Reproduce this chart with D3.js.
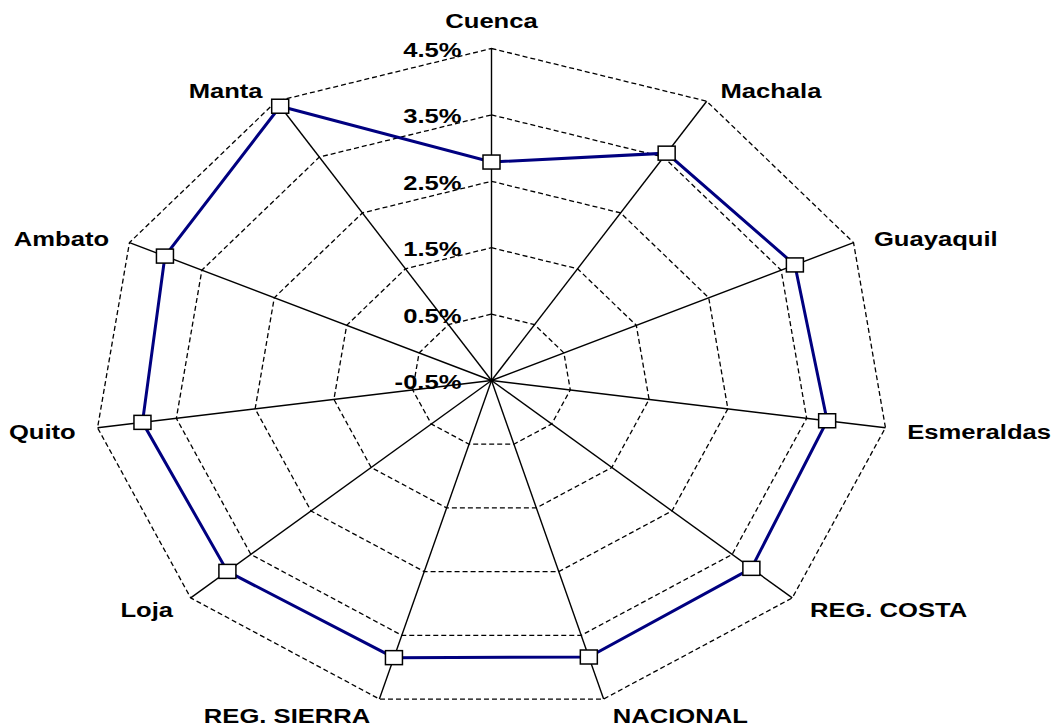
<!DOCTYPE html>
<html>
<head>
<meta charset="utf-8">
<title>Radar</title>
<script src="https://cdn.jsdelivr.net/npm/d3@7"></script>
<style>
	html, body { margin: 0; padding: 0; background: #fff; }
	svg { display: block; }
	text { font-family: "Liberation Sans", Arial, sans-serif; font-weight: bold; fill: #000; }
</style>
</head>
<body>
<svg id="chart" width="1055" height="726"></svg>
<script>
'use strict';

var categories = [
	'Cuenca', 'Machala', 'Guayaquil', 'Esmeraldas', 'REG. COSTA',
	'NACIONAL', 'REG. SIERRA', 'Loja', 'Quito', 'Ambato', 'Manta'
];
// percent values
var values = [2.79, 3.57, 3.69, 3.76, 3.82, 3.84, 3.85, 3.89, 3.93, 4.01, 4.41];
var ticks = [-0.5, 0.5, 1.5, 2.5, 3.5, 4.5];

var opt = {
	cx: 491.5,
	cy: 380.5,
	rx: 398,
	ry: 332,
	stretch: 1.22,
	fontSize: 21
};

var svg = d3.select('#chart');
var g = svg.append('g');

var r = d3.scaleLinear()
	.domain([ticks[0], ticks[ticks.length - 1]])
	.range([0, 1]);

var angle = d3.scaleLinear()
	.domain([0, categories.length])
	.range([0, 2 * Math.PI]);

// plain hyphen for the minus sign, like the original
var locale = d3.formatLocale({
	decimal: '.',
	thousands: ',',
	grouping: [3],
	currency: ['$', ''],
	minus: '-'
});
var fmt = function(v) { return locale.format('.1%')(v / 100); };

/**
 * Point on axis i at value v.
 */
function point(i, v) {
	var a = angle(i);
	var k = r(v);
	return [
		opt.cx + Math.sin(a) * opt.rx * k,
		opt.cy - Math.cos(a) * opt.ry * k
	];
}

function stretched(sel) {
	return sel.attr('transform', function(d) {
		return 'translate(' + d.x + ',' + d.y + ') scale(' + opt.stretch + ',1)';
	});
}

// rings
var ring = d3.line().curve(d3.curveLinearClosed);
g.selectAll('path.ring')
	.data(ticks.slice(1))
	.enter()
	.append('path')
	.attr('class', 'ring')
	.attr('d', function(t) {
		return ring(categories.map(function(c, i) { return point(i, t); }));
	})
	.attr('fill', 'none')
	.attr('stroke', '#000')
	.attr('stroke-width', 1.3)
	.attr('stroke-dasharray', '5,3');

// spokes
g.selectAll('line.spoke')
	.data(categories)
	.enter()
	.append('line')
	.attr('class', 'spoke')
	.attr('x1', opt.cx)
	.attr('y1', opt.cy)
	.attr('x2', function(c, i) { return point(i, ticks[ticks.length - 1])[0]; })
	.attr('y2', function(c, i) { return point(i, ticks[ticks.length - 1])[1]; })
	.attr('stroke', '#000')
	.attr('stroke-width', 1.4);

// tick labels on the first axis
stretched(g.selectAll('text.tick')
	.data(ticks.map(function(t) {
		return { label: fmt(t), x: opt.cx - 30, y: point(0, t)[1] + 1 };
	}))
	.enter()
	.append('text')
	.attr('class', 'tick'))
	.attr('text-anchor', 'end')
	.attr('dy', '0.36em')
	.style('font-size', opt.fontSize + 'px')
	.text(function(d) { return d.label; });

// series
var pts = values.map(function(v, i) { return point(i, v); });
g.append('path')
	.attr('d', ring(pts))
	.attr('fill', 'none')
	.attr('stroke', '#000080')
	.attr('stroke-width', 3);

g.selectAll('rect.marker')
	.data(pts)
	.enter()
	.append('rect')
	.attr('class', 'marker')
	.attr('x', function(d) { return d[0] - 8.5; })
	.attr('y', function(d) { return d[1] - 7; })
	.attr('width', 17)
	.attr('height', 14)
	.attr('fill', '#fff')
	.attr('stroke', '#000')
	.attr('stroke-width', 1.5);

// category labels
var labels = categories.map(function(c, i) {
	var a = angle(i);
	var s = Math.sin(a), co = Math.cos(a);
	var p = point(i, ticks[ticks.length - 1]);
	var side = Math.abs(s) < 0.1 ? 0 : (s > 0 ? 1 : -1);
	var dx = side * (4 + 18 * Math.abs(s));
	var dy = -15 * co + 2 - (side === 0 ? 15 * Math.sign(co) : 0);
	return {
		label: c,
		x: p[0] + dx,
		y: p[1] + dy,
		anchor: side === 0 ? 'middle' : (side > 0 ? 'start' : 'end')
	};
});

stretched(g.selectAll('text.cat')
	.data(labels)
	.enter()
	.append('text')
	.attr('class', 'cat'))
	.attr('text-anchor', function(d) { return d.anchor; })
	.attr('dy', '0.36em')
	.style('font-size', opt.fontSize + 'px')
	.text(function(d) { return d.label; });
</script>
</body>
</html>
